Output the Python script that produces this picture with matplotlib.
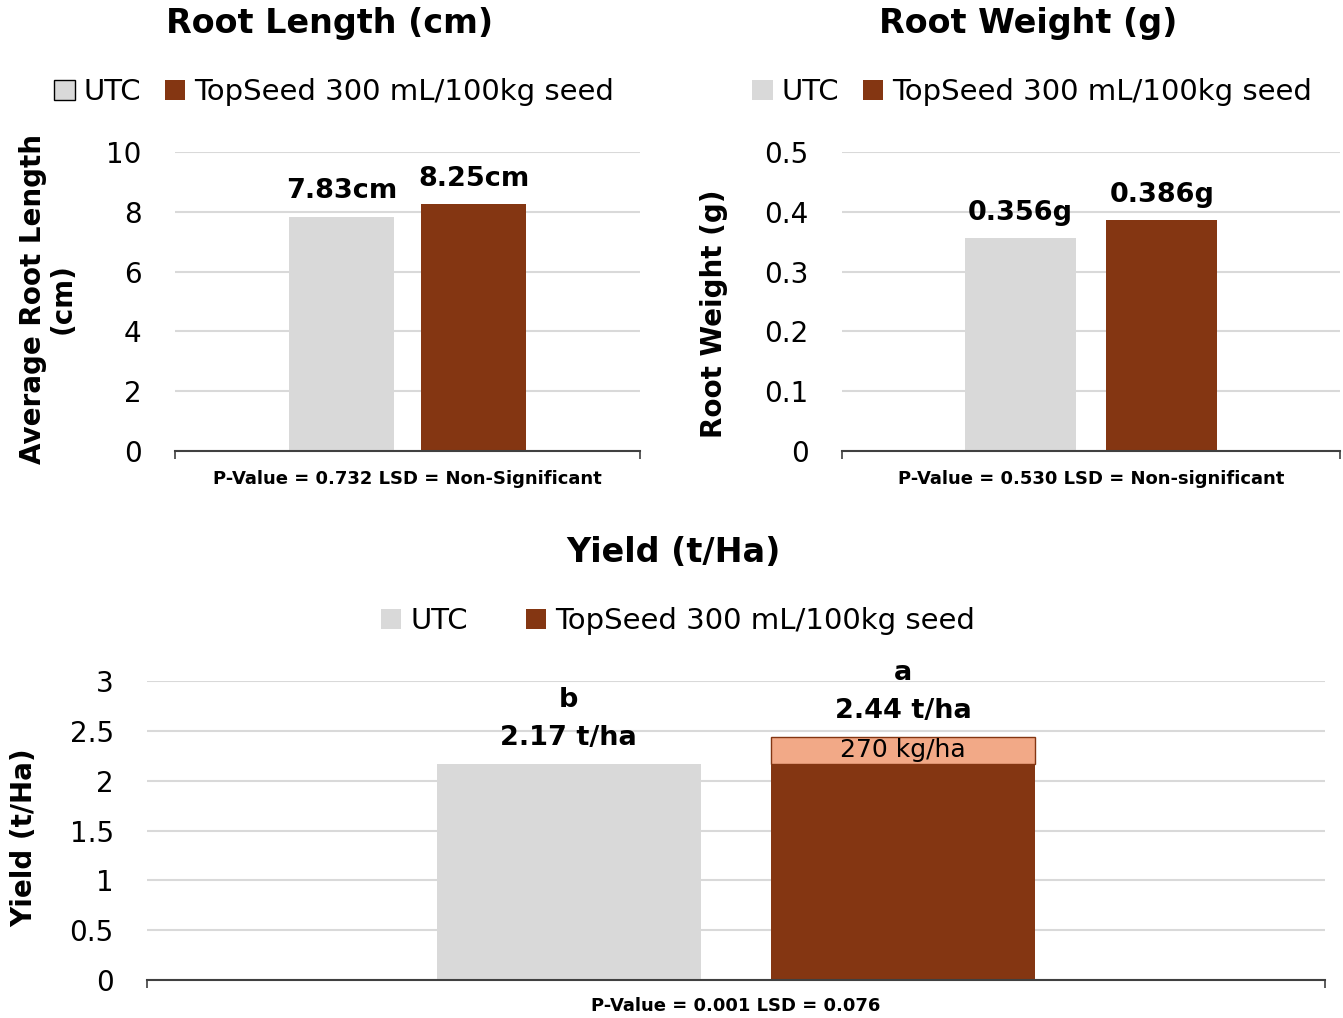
import matplotlib
matplotlib.use("Agg")
import matplotlib.pyplot as plt
from matplotlib.patches import Patch

plt.rcParams['font.family'] = ['DejaVu Sans']

# data
treatments = ["UTC", "TopSeed 300 mL/100kg seed"]
root_length = [7.83, 8.25]
root_length_labels = ["7.83cm", "8.25cm"]
root_weight = [0.356, 0.386]
root_weight_labels = ["0.356g", "0.386g"]
yield_vals = [2.17, 2.44]
yield_labels = ["b\n2.17 t/ha", "a\n2.44 t/ha"]
yield_gain_label = "270 kg/ha"
pvalue_texts = ["P-Value = 0.732 LSD = Non-Significant",
                "P-Value = 0.530 LSD = Non-significant",
                "P-Value = 0.001 LSD = 0.076"]

GREY = "#D9D9D9"
BROWN = "#843612"
SALMON = "#F2A987"
colors = [GREY, BROWN]

W, H = 1343, 1018
fig = plt.figure(figsize=(W / 100, H / 100), dpi=100)


def px_axes(x0, y0, x1, y1):
    return fig.add_axes([x0 / W, 1 - y1 / H, (x1 - x0) / W, (y1 - y0) / H])


def style_axes(ax, ymax, step, fmt):
    ax.set_xlim(-0.5, 0.5)
    ax.set_ylim(0, ymax)
    ticks = [i * step for i in range(int(round(ymax / step)) + 1)]
    ax.set_yticks(ticks)
    ax.set_yticklabels([fmt(t) for t in ticks], fontsize=20)
    ax.tick_params(axis='y', length=0, pad=24)
    ax.set_xticks([-0.5, 0.5])
    ax.set_xticklabels([])
    ax.tick_params(axis='x', length=6, direction='out', color='#404040', width=1.2)
    for s in ['top', 'right', 'left']:
        ax.spines[s].set_visible(False)
    ax.spines['bottom'].set_color('#404040')
    ax.spines['bottom'].set_linewidth(1.5)
    ax.grid(axis='y', color=GREY, linewidth=1.5)
    ax.set_axisbelow(True)


offsets = [-0.142, 0.142]
bw = 0.224

# Root length
ax1 = px_axes(175, 152, 640, 451)
style_axes(ax1, 10, 2, lambda t: f"{t:g}")
for i in range(2):
    ax1.bar(offsets[i], root_length[i], width=bw, color=colors[i], zorder=2)
    ax1.annotate(root_length_labels[i], (offsets[i], root_length[i]), xytext=(0, 9),
                 textcoords='offset points', ha='center', va='bottom',
                 fontsize=19.5, fontweight='bold')
ax1.set_ylabel("Average Root Length\n(cm)", fontsize=20, fontweight='bold',
               linespacing=1.05)
ax1.yaxis.set_label_coords(-0.212, 0.51)
ax1.set_xlabel(pvalue_texts[0], fontsize=13, fontweight='bold', labelpad=4)

# Root weight
ax2 = px_axes(842, 152, 1340, 451)
style_axes(ax2, 0.5, 0.1, lambda t: f"{t:.1f}" if t > 0 else "0")
for i in range(2):
    ax2.bar(offsets[i], root_weight[i], width=bw, color=colors[i], zorder=2)
    ax2.annotate(root_weight_labels[i], (offsets[i], root_weight[i]), xytext=(0, 9),
                 textcoords='offset points', ha='center', va='bottom',
                 fontsize=19.5, fontweight='bold')
ax2.set_ylabel("Root Weight (g)", fontsize=20, fontweight='bold')
ax2.yaxis.set_label_coords(-0.229, 0.46)
ax2.set_xlabel(pvalue_texts[1], fontsize=13, fontweight='bold', labelpad=4)

# Yield
ax3 = px_axes(147, 681, 1325, 980)
style_axes(ax3, 3, 0.5, lambda t: f"{t:g}")
ax3.bar(offsets[0], yield_vals[0], width=bw, color=GREY, zorder=2)
ax3.bar(offsets[1], yield_vals[0], width=bw, color=BROWN, zorder=2)
ax3.bar(offsets[1], yield_vals[1] - yield_vals[0], bottom=yield_vals[0], width=bw,
        color=SALMON, edgecolor=BROWN, linewidth=1, zorder=2)
ax3.text(offsets[1], (yield_vals[0] + yield_vals[1]) / 2, yield_gain_label,
         ha='center', va='center', fontsize=18)
for i in range(2):
    ax3.annotate(yield_labels[i], (offsets[i], yield_vals[i]), xytext=(0, 9),
                 textcoords='offset points', ha='center', va='bottom',
                 fontsize=19.5, fontweight='bold', linespacing=1.6)
ax3.set_ylabel("Yield (t/Ha)", fontsize=20, fontweight='bold')
ax3.yaxis.set_label_coords(-0.0925, 0.475)
ax3.set_xlabel(pvalue_texts[2], fontsize=13, fontweight='bold', labelpad=3)

# titles
fig.text(330 / W, 1 - 24 / H, "Root Length (cm)", ha='center', va='center',
         fontsize=24, fontweight='bold')
fig.text(1028 / W, 1 - 24 / H, "Root Weight (g)", ha='center', va='center',
         fontsize=24, fontweight='bold')
fig.text(673 / W, 1 - 553 / H, "Yield (t/Ha)", ha='center', va='center',
         fontsize=24, fontweight='bold')

# legends
handles_a = [Patch(facecolor=GREY, edgecolor='black', linewidth=1), Patch(facecolor=BROWN)]
handles_b = [Patch(facecolor=GREY), Patch(facecolor=BROWN)]
leg_kw = dict(loc='center', ncol=2, frameon=False, fontsize=21, handlelength=0.7,
              handleheight=0.7, handletextpad=0.3, bbox_transform=fig.transFigure)
fig.legend(handles_a, treatments, bbox_to_anchor=(334 / W, 1 - 92 / H), columnspacing=0.8, **leg_kw)
fig.legend(handles_b, treatments, bbox_to_anchor=(1032 / W, 1 - 92 / H), columnspacing=0.8, **leg_kw)
fig.legend(handles_b, treatments, bbox_to_anchor=(678 / W, 1 - 621 / H), columnspacing=2.0, **leg_kw)

fig.savefig("out.png", dpi=100)
